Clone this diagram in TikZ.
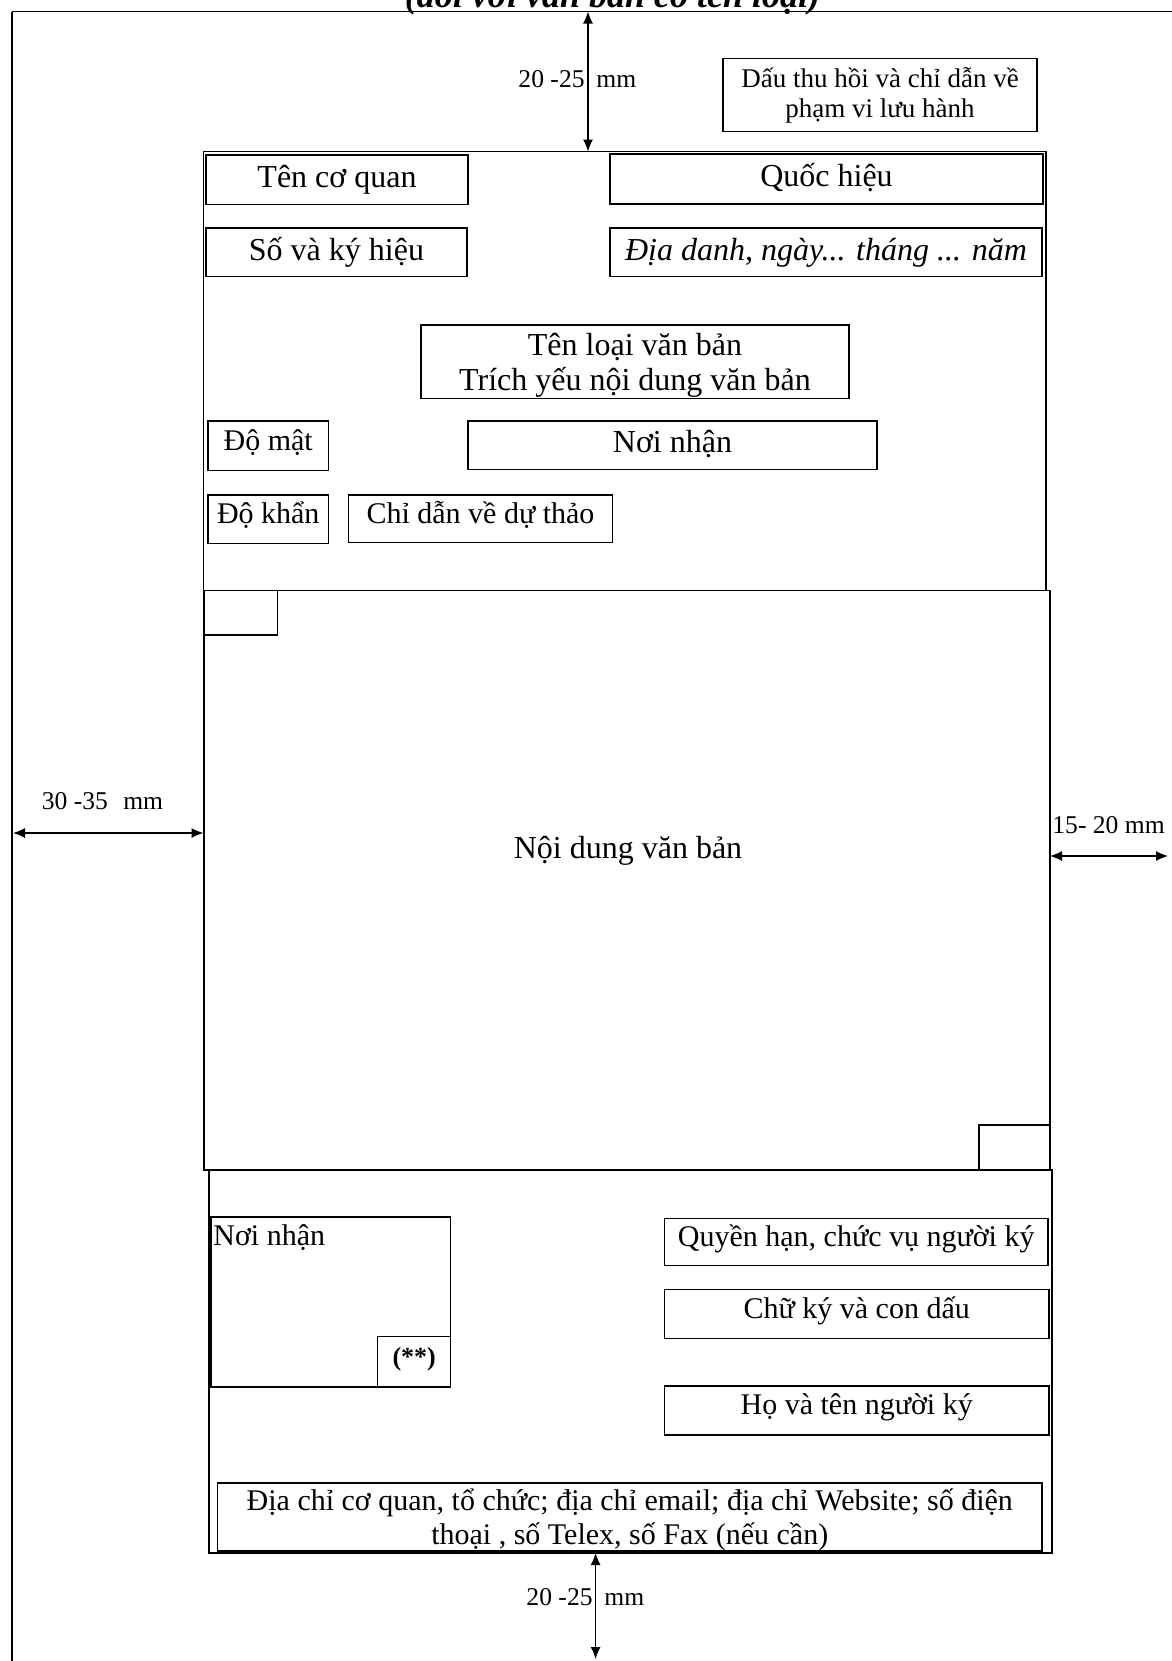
\documentclass[tikz,border=0pt]{standalone}
\usepackage{fontspec}
\setmainfont{Liberation Serif}
\usetikzlibrary{arrows.meta}
\newcommand\fsz[2]{\fontsize{#1pt}{#2pt}\selectfont}
\begin{document}
\begin{tikzpicture}[x=0.5pt,y=-0.5pt,
  box/.style={draw, line width=0.7pt, inner sep=0pt, font=\fsz{16}{19}},
  small/.style={font=\fsz{15}{17}},
  bl/.style={text height=#1pt, text depth=0pt},
  frame/.style={line width=0.6pt},
  plain/.style={draw, line width=0.6pt, inner sep=0pt},
  dim/.style={{Latex[length=6pt,width=5pt]}-{Latex[length=6pt,width=5pt]}, line width=0.6pt},
  dimlabel/.style={inner sep=0pt, font=\fsz{12.8}{15}}]
\useasboundingbox (0,0) rectangle (1172,1661);
\clip (0,0) rectangle (1172,1661);
% page edge
\draw[frame] (12,11.5) -- (1172,11.5);
\draw[frame] (12,11.5) -- (12,1661);
\node[anchor=base, inner sep=0pt, font=\bfseries\itshape\fsz{18}{20}] (ghichu) at (612.5,7) {(đối với văn bản có tên loại)};
% frame sections
\draw[frame] (203.5,151.5) rectangle (1046,590.3);
\draw[frame] (204,590.3) rectangle (1050,1170);
\draw[frame] (209,1170) rectangle (1052,1553);
% header boxes
\node[box, align=center, font=\fsz{13.5}{15}, minimum width=157pt, minimum height=36.25pt] (dau) at (880,95) {Dấu thu hồi và chỉ dẫn về\\phạm vi lưu hành};
\node[box, bl=7.85, minimum width=131pt, minimum height=24.75pt] (tencq) at (337,179.75) {Tên cơ quan};
\node[box, bl=7.5, minimum width=216.5pt, minimum height=25pt] (quochieu) at (826.5,179) {Quốc hiệu};
\node[box, bl=8.5, minimum width=130.5pt, minimum height=24.25pt] (sokh) at (336.5,252.25) {Số và ký hiệu};
\node[box, bl=8.5, minimum width=216pt, minimum height=24.25pt, font=\itshape\fsz{16}{19}] (diadanh) at (826,252.25) {Địa danh, ngày... tháng ... năm};
\node[box, align=center, text depth=0pt, font=\fsz{16}{17.5}, minimum width=214pt, minimum height=36.75pt] (tenloai) at (635,361.75) {Tên loại văn bản\\Trích yếu nội dung văn bản};
\node[box, small, bl=4.6, minimum width=60.25pt, minimum height=24.75pt] (domat) at (268.25,445.75) {Độ mật};
\node[box, bl=7.25, minimum width=204.5pt, minimum height=24.25pt] (noinhan1) at (672.5,445.25) {Nơi nhận};
\node[box, small, bl=4.25, minimum width=60.25pt, minimum height=24.25pt] (dokhan) at (268.25,519.25) {Độ khẩn};
\node[box, small, bl=4.7, minimum width=132pt, minimum height=23.8pt] (chidan) at (480.5,518.8) {Chỉ dẫn về dự thảo};
% body
\node[plain, minimum width=37.05pt, minimum height=22.35pt] (sb1) at (240.55,612.65) {};
\node[anchor=base, inner sep=0pt, font=\fsz{16}{19}] (noidung) at (628,858) {Nội dung văn bản};
\node[plain, minimum width=35.5pt, minimum height=22.5pt] (sb2) at (1014.5,1147.5) {};
% footer
\node[box, minimum width=119.85pt, minimum height=85pt] (noinhan2) at (330.85,1302) {};
\node[anchor=base west, inner sep=0pt, small] (nnlabel) at (213,1245) {Nơi nhận};
\node[box, bl=3.5, minimum width=36.5pt, minimum height=25pt, font=\bfseries\fsz{13}{15}] (star) at (414.2,1361.7) {(**)\hspace{5pt}};
\node[box, small, bl=4, minimum width=191.8pt, minimum height=23.3pt] (quyen) at (856.2,1242) {Quyền hạn, chức vụ người ký};
\node[box, small, bl=4, minimum width=192.3pt, minimum height=24.35pt] (chuky) at (856.7,1314) {Chữ ký và con dấu};
\node[box, small, bl=4.3, minimum width=192.3pt, minimum height=24.4pt] (hoten) at (856.7,1410.4) {Họ và tên người ký};
\node[box, small, align=center, text depth=0pt, minimum width=412.25pt, minimum height=34pt] (diachi) at (629.75,1517) {Địa chỉ cơ quan, tổ chức; địa chỉ email; địa chỉ Website; số điện\\thoại , số Telex, số Fax (nếu cần)};
% dimension arrows
\coordinate (tA) at (588,11.5);
\coordinate (tB) at (588,151.5);
\draw[dim] (tA) -- (tB);
\node[dimlabel, anchor=base east] (tL1) at (585,87) {20 -25};
\node[dimlabel, anchor=base west] (tL2) at (596,87) {mm};
\coordinate (bA) at (595.6,1553);
\coordinate (bB) at (595.6,1659);
\draw[dim] (bA) -- (bB);
\node[dimlabel, anchor=base east] (bL1) at (593,1605.5) {20 -25};
\node[dimlabel, anchor=base west] (bL2) at (604,1605.5) {mm};
\coordinate (lA) at (13,833);
\coordinate (lB) at (203.5,833);
\draw[dim] (lA) -- (lB);
\node[dimlabel, anchor=base] (lL) at (102.5,809) {30 -35\hspace{0.6em}mm};
\coordinate (rA) at (1050,856);
\coordinate (rB) at (1168,856);
\draw[dim] (rA) -- (rB);
\node[dimlabel, anchor=base west] (rL) at (1052,833) {15- 20 mm};
\end{tikzpicture}
\end{document}
